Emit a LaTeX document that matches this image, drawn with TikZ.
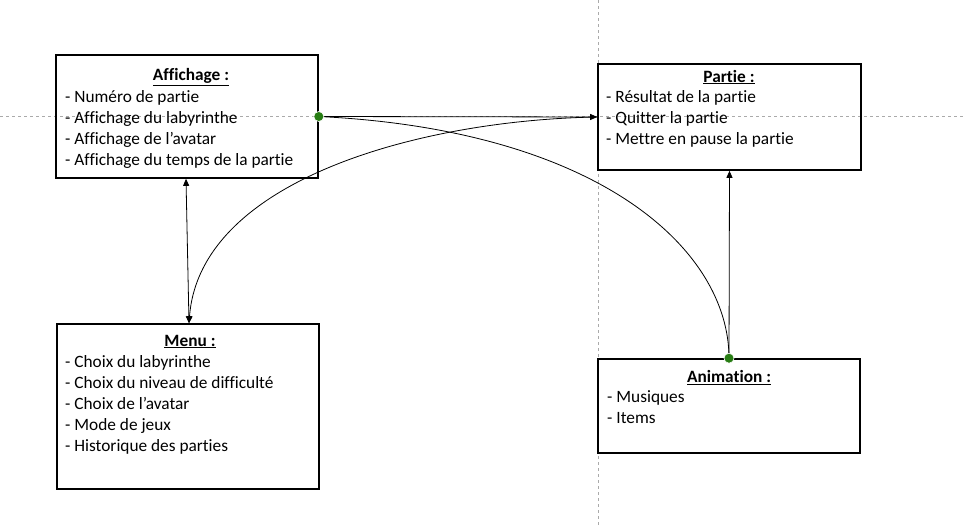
\documentclass[tikz,border=0pt]{standalone}
\usepackage{fontspec}
\setmainfont{Carlito}[RawFeature=-liga]
\usepackage{tikz}
\usetikzlibrary{positioning, arrows.meta, calc}
\definecolor{GuideColor}{RGB}{170,170,170}
\definecolor{DotColor}{RGB}{40,125,20}
\tikzstyle{box} = [draw, line width=1.6pt, rectangle, inner sep=0pt]
\tikzstyle{boxtitle} = [inner sep=0pt, font=\fontsize{17.3}{21}\selectfont\bfseries]
\tikzstyle{items} = [inner sep=0pt, align=left, anchor=north west, font=\fontsize{17.3}{21}\selectfont]
\tikzstyle{link} = [line width=0.8pt, -{Triangle[length=7pt, width=6pt]}]
\tikzstyle{guide} = [GuideColor, line width=0.7pt, dash pattern=on 3pt off 3pt]
\begin{document}
\begin{tikzpicture}[x=1pt, y=-1pt]
                \useasboundingbox (0,0) rectangle (966,525);

                % Guides
                \draw[guide] (0,116) -- (966,116);
                \draw[guide] (598,0) -- (598,525);

                % Affichage
                \node[box, minimum width=262pt, minimum height=123pt] (affichage) at (187,116.5) {};
                \node[boxtitle] (affichage-title) at (191,77) {\underline{Affichage :}};
                \node[items] (affichage-items) at (65,90) {- Numéro de partie\\- Affichage du labyrinthe\\- Affichage de l’avatar\\- Affichage du temps de la partie};

                % Partie
                \node[box, minimum width=263pt, minimum height=106pt] (partie) at (729.5,117) {};
                \node[boxtitle] (partie-title) at (729,77) {\underline{Partie :}};
                \node[items] (partie-items) at (606,90) {- Résultat de la partie\\- Quitter la partie\\- Mettre en pause la partie};

                % Menu
                \node[box, minimum width=262pt, minimum height=165pt] (menu) at (188,406.5) {};
                \node[boxtitle] (menu-title) at (190,341.5) {\underline{Menu :}};
                \node[items] (menu-items) at (65,355) {- Choix du labyrinthe\\- Choix du niveau de difficulté\\- Choix de l’avatar\\- Mode de jeux\\- Historique des parties};

                % Animation
                \node[box, minimum width=262pt, minimum height=94pt] (animation) at (729,406) {};
                \node[boxtitle] (animation-title) at (729,377.5) {\underline{Animation :}};
                \node[items] (animation-items) at (607,390) {- Musiques\\- Items};

                % Links
                \draw[link, {Triangle[length=7pt, width=6pt]}-{Triangle[length=7pt, width=6pt]}] ([xshift=-1pt]affichage.south) -- ([xshift=1pt]menu.north);
                \draw[link] (affichage.east) -- (partie.west);
                \draw[line width=0.8pt] (affichage.east) .. controls (600,130) and (729,250) .. (animation.north);
                \draw[link] (partie.west) .. controls (420,120) and (200,180) .. ([xshift=1pt]menu.north);
                \draw[link] (animation.north) -- (partie.south);

                % Dots
                \fill[DotColor, draw=white, line width=0.6pt] (affichage.east) circle (5pt);
                \fill[DotColor, draw=white, line width=0.6pt] (animation.north) circle (5pt);
            \end{tikzpicture}
\end{document}
